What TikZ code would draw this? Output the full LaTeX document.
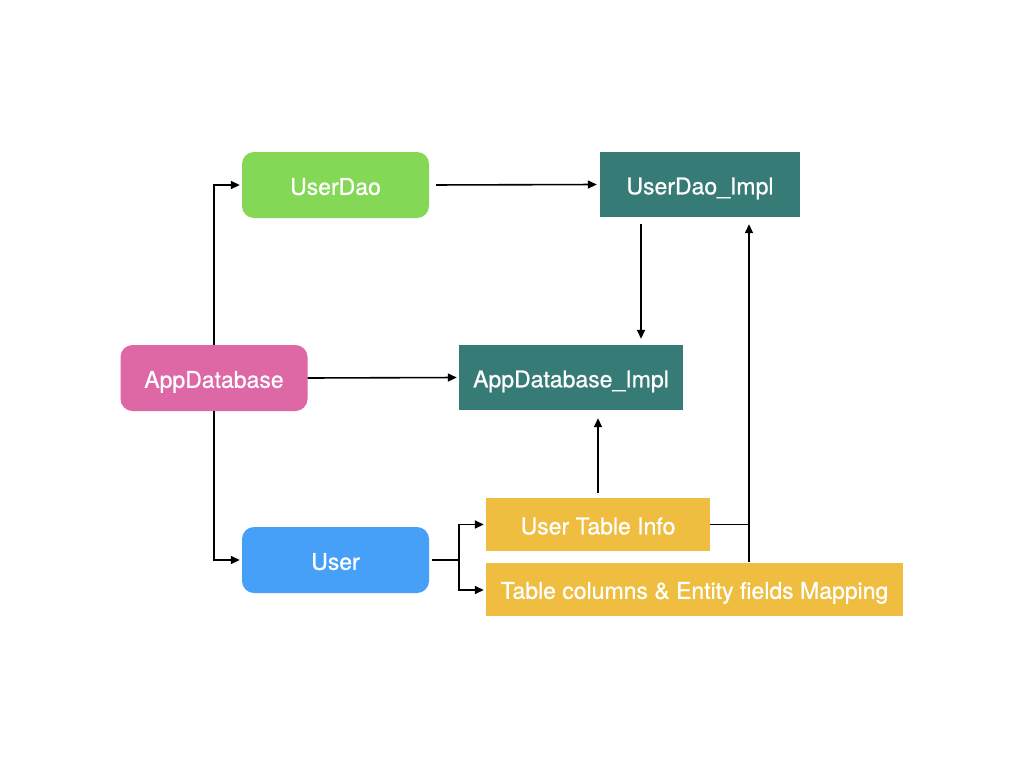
\documentclass[tikz,border=0pt]{standalone}
\usepackage{fontspec}
\setmainfont{TeX Gyre Heros}
\newfontfamily\boxfont{TeX Gyre Heros}[FakeBold=0.7]
\usetikzlibrary{calc}
\usetikzlibrary{arrows.meta}
\definecolor[named]{DaoGreen}{HTML}{84D856}
\definecolor[named]{ImplTeal}{HTML}{377B77}
\definecolor[named]{DbPink}{HTML}{DE68A6}
\definecolor[named]{EntityBlue}{HTML}{47A0F8}
\definecolor[named]{InfoYellow}{HTML}{EFBE40}
\tikzset{
  box/.style={inner sep=0pt,text=white,text height=20pt,text depth=0.4pt,
    font=\boxfont\fontsize{23}{26}\selectfont},
  rbox/.style={box,rounded corners=12pt,minimum width=187pt,minimum height=66pt},
  sbox/.style={box,minimum height=53pt},
  line/.style={line width=1.6pt},
  link/.style={line,-{Triangle[length=9pt,width=8pt]}},
}
\begin{document}
\begin{tikzpicture}[x=1pt,y=-1pt]
  \useasboundingbox[fill=white] (0,0) rectangle (1024,768);
  \node[rbox,fill=DaoGreen] (dao) at (335.5,185) {UserDao};
  \node[box,fill=ImplTeal,minimum width=200pt,minimum height=65pt] (daoimpl) at (700,184.5) {UserDao\_Impl};
  \node[rbox,fill=DbPink] (db) at (214,378) {AppDatabase};
  \node[box,fill=ImplTeal,minimum width=224pt,minimum height=65pt] (dbimpl) at (571,377.5) {AppDatabase\_Impl};
  \node[rbox,fill=EntityBlue] (user) at (335.5,560) {User};
  \node[sbox,fill=InfoYellow,minimum width=224pt] (info) at (598,524.5) {User Table Info};
  \node[sbox,fill=InfoYellow,minimum width=417pt] (map) at (694.5,589) {Table columns \& Entity fields Mapping};
  \coordinate (fork) at ([xshift=30pt]user.east);
  \coordinate (down) at ([xshift=-59pt]daoimpl.south);
  \coordinate (up) at ([xshift=49pt]daoimpl.south);
  % AppDatabase side
  \draw[link,shorten >=2pt] (db.north) |- (dao.west);
  \draw[link,shorten >=2pt] (db.south) |- (user.west);
  \draw[link,shorten >=2pt] (db.east) -- (dbimpl.west);
  \draw[link,shorten <=7pt,shorten >=3pt] (dao.east) -- (daoimpl.west);
  \draw[link,shorten <=7pt,shorten >=6pt] (down) -- (down |- dbimpl.north);
  % User side
  \draw[line,shorten <=3pt] (user.east) -- (fork);
  \draw[link,shorten >=2pt] (fork) |- (info.west);
  \draw[link,shorten >=2pt] (fork) |- ([yshift=-1pt]map.west);
  \draw[link,shorten <=5pt,shorten >=8pt] (info.north) -- (info.north |- dbimpl.south);
  \draw[line] (info.east) -- (info.east -| up);
  \draw[link,shorten >=7pt] (up |- map.north) -- (up);
\end{tikzpicture}
\end{document}
